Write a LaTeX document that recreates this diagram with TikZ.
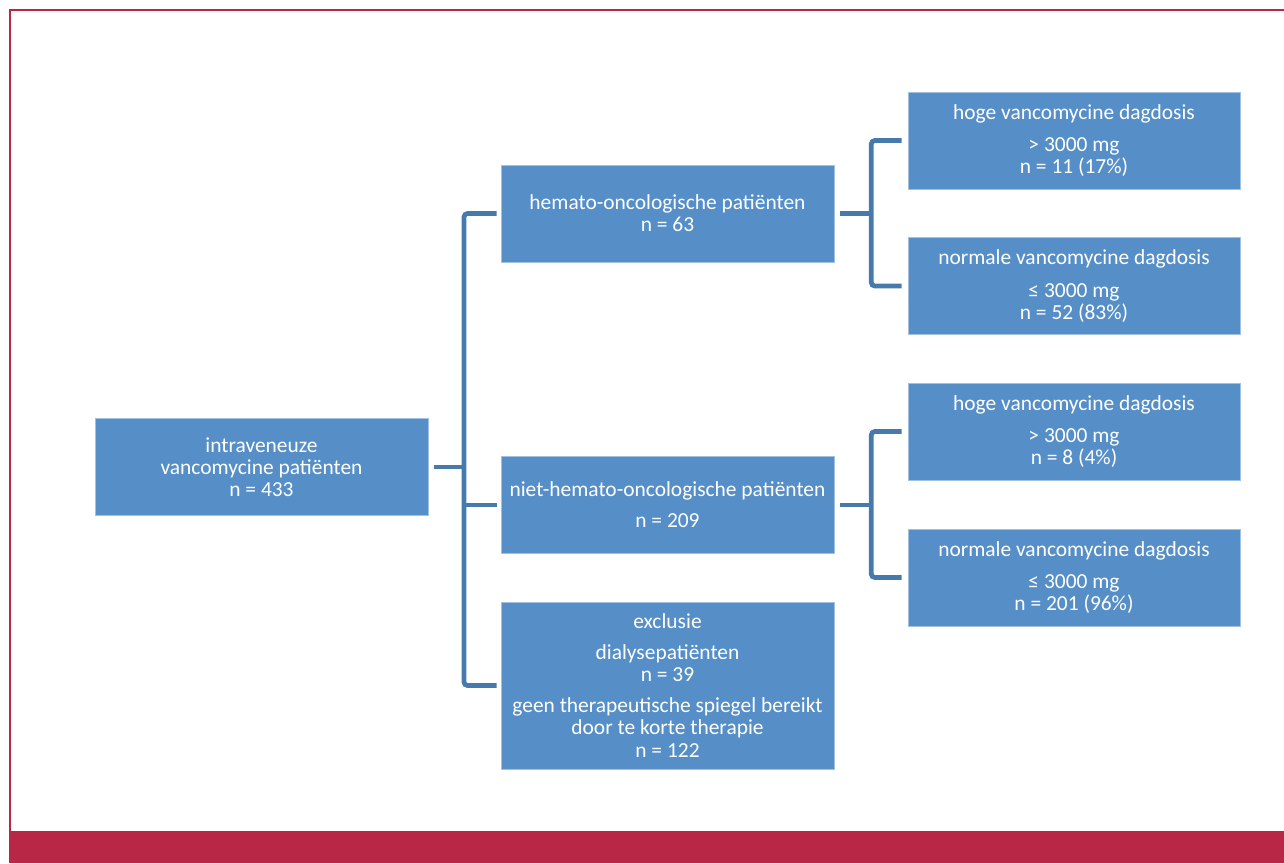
\documentclass[tikz,border=0pt]{standalone}
\usepackage{fontspec}
\setmainfont{Carlito}
\usetikzlibrary{positioning}
\definecolor{boxblue}{RGB}{86,143,200}
\definecolor{linkblue}{RGB}{70,121,172}
\definecolor{frame}{RGB}{184,40,70}

\begin{document}
\begin{tikzpicture}[x=0.02cm, y=-0.02cm,
    box/.style={draw=boxblue!55!white, line width=0.4pt, fill=boxblue, text=white, align=center,
      minimum width=6.66cm, minimum height=1.94cm, inner sep=0pt, font=\fontsize{12.2}{12.6}\selectfont},
    link/.style={draw=linkblue, line width=2.7pt, rounded corners=2pt}]
  \useasboundingbox (0,0) rectangle (1284,863);

  % frame
  \fill[frame] (9,831) rectangle (1284,863);
  \draw[frame, line width=1.3pt] (10,831) -- (10,10) -- (1284,10);

  % boxes
  \node[box] (root) at (261.5,467) {intraveneuze\\ vancomycine patiënten\\ n = 433};
  \node[box] (hemato) at (667.5,213.5) {hemato-oncologische patiënten\\ n = 63};
  \node[box] (niet) at (667.5,505) {niet-hemato-oncologische patiënten\\[5pt] n = 209};
  \node[box, minimum height=3.34cm] (excl) at (667.5,685.5)
    {exclusie\\[5pt] dialysepatiënten\\ n = 39\\[5pt] geen therapeutische spiegel bereikt\\ door te korte therapie\\ n = 122};

  \foreach \nm/\y/\kind/\rng/\cnt in {hoge1/140.5/hoge/> 3000 mg/n = 11 (17\%),
      norm1/286/normale/≤ 3000 mg/n = 52 (83\%),
      hoge2/431.5/hoge/> 3000 mg/n = 8 (4\%),
      norm2/577.5/normale/≤ 3000 mg/n = 201 (96\%)}{
    \node[box, minimum width=6.64cm] (\nm) at (1074,\y) {\kind{} vancomycine dagdosis\\[6pt] \rng\\ \cnt};
  }

  % connectors
  \coordinate (tr) at (464,467);
  \draw[link] ([xshift=-2.3pt]hemato.west) -| (tr) |- ([xshift=-2.3pt]excl.west);
  \draw[link] ([xshift=-2.3pt]niet.west) -- (niet.west -| tr);
  \draw[link] ([xshift=3.4pt]root.east) -- (tr);

  \foreach \src/\up/\dn in {hemato/hoge1/norm1, niet/hoge2/norm2}{
    \draw[link] ([xshift=3.4pt]\src.east) -- ++(31,0) coordinate (j\src);
    \draw[link] ([xshift=-3.4pt]\up.west) -| (j\src) |- ([xshift=-3.4pt]\dn.west);
  }
\end{tikzpicture}
\end{document}
